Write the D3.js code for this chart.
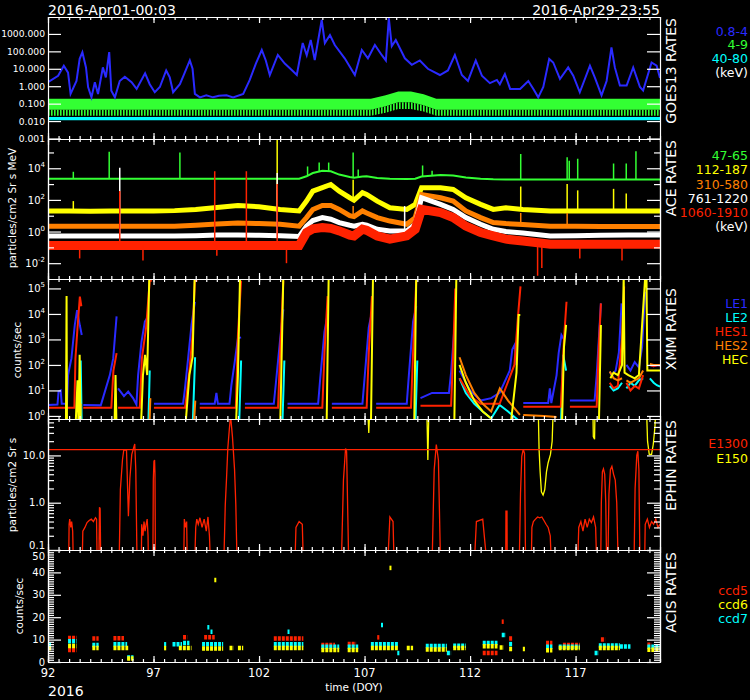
<!DOCTYPE html>
<html>
<head>
<meta charset="utf-8">
<script src="https://cdn.jsdelivr.net/npm/d3@7"></script>
<style>
body { margin: 0; background: #000; }
text { font-family: "DejaVu Sans", sans-serif; fill: #fff; }
</style>
</head>
<body>
<div id="chart-area"></div>
<script>
// ---------- data (DOY, value) ----------
const xMajor = [92, 97, 102, 107, 112, 117]
const xMinor = d3.range(92, 121.01, 0.5)

// GOES13 0.8-4 keV
const goesXray = [
  [92.0,1.7],[92.48,4],[92.75,15],[92.95,6],[93.07,0.36],[93.35,2],[93.5,37],[93.63,90],[93.8,12],[93.9,0.9],
  [94.06,0.23],[94.22,1.7],[94.37,0.36],[94.6,12],[94.74,3.2],[94.9,90],[95.0,0.56],[95.17,0.23],[95.4,2],[95.64,3.5],
  [95.96,1.7],[96.2,0.7],[96.6,5.5],[96.82,1.3],[97.06,0.45],[97.3,0.9],[97.6,8],[97.77,3.2],[97.93,0.45],[98.25,1.3],
  [98.48,6],[98.72,30],[98.85,10],[98.96,0.36],[99.2,0.23],[99.5,0.3],[99.82,0.23],[100.1,0.28],[100.46,0.3],[100.77,0.23],
  [101.25,0.36],[101.56,2.3],[101.85,20],[102.13,120],[102.32,30],[102.51,4.4],[102.89,62],[103.22,20],[103.55,8.6],[103.79,4.4],
  [104.07,300],[104.26,60],[104.45,450],[104.64,32],[104.97,6300],[105.12,300],[105.36,870],[105.59,230],[106.06,40],[106.54,4.4],
  [106.87,120],[107.16,40],[107.49,230],[107.82,60],[108.01,30],[108.15,8200],[108.29,200],[108.48,450],[108.91,40],[109.24,17],
  [109.62,30],[110.0,10],[110.57,4.4],[110.95,8],[111.28,62],[111.61,4.4],[111.9,2],[112.27,30],[112.56,4],[112.94,1.5],
  [113.27,2.3],[113.41,1.3],[113.65,5],[113.9,0.7],
  [114.37,0.7],[114.76,2],[115.0,0.7],[115.23,0.23],[115.47,0.9],[115.75,37],[115.94,23],[116.26,2.6],[116.65,12],[116.89,4],
  [117.2,0.45],[117.68,15],[117.91,3.2],[118.23,0.3],[118.47,2],[118.7,170],[118.86,12],[119.1,1.1],[119.42,1.1],[119.73,12],
  [120.05,0.9],[120.2,0.56],[120.6,23],[120.84,15],[121.0,3]
]
// GOES13 4-9 keV band (upper / lower / ragged floor) and 40-80 keV band
const goesBandDoy = [92, 107.3, 108.0, 108.6, 109.2, 109.8, 110.4, 121]
const goesGreenHi = [0.19, 0.19, 0.3, 0.5, 0.5, 0.35, 0.19, 0.19]
const goesGreenLo = [0.045, 0.045, 0.07, 0.12, 0.12, 0.08, 0.045, 0.045]
const goesGreenFloor = [0.02, 0.02, 0.03, 0.05, 0.05, 0.035, 0.02, 0.02]
const goesCyanHi = [0.017, 0.017, 0.017, 0.017, 0.017, 0.017, 0.017, 0.017]
const goesCyanLo = [0.011, 0.011, 0.011, 0.011, 0.011, 0.011, 0.011, 0.011]

// ACE rates
const aceDoy = [92, 93, 94, 95, 96, 97, 98, 99, 100, 101, 102, 103, 103.9, 104.25, 104.55, 105.0, 105.4, 105.8, 106.3, 106.5,
  106.9, 107.1, 107.6, 108.2, 109.0, 109.4, 109.7, 110.6, 111.2, 111.8, 112.5, 113.1, 113.7, 114.5, 115.8, 117, 118.2, 119.5, 121]
const ace47 = [2200, 2200, 2200, 2200, 2200, 2200, 2200, 2200, 2200, 2200, 2200, 2200, 2200, 3100, 5000, 7000, 6500, 4000, 2800, 2500,
  3000, 3100, 2400, 2200, 2100, 2200, 3000, 3800, 3500, 2600, 2200, 2000, 1950, 1950, 1950, 1950, 1950, 1950, 1950]
const ace112 = [20, 20, 19, 20, 20, 20, 21, 25, 33, 45, 37, 25, 20, 84, 360, 590, 940, 360, 137, 97,
  285, 220, 84, 32, 25, 52, 590, 590, 460, 137, 52, 25, 32, 25, 20, 20, 20, 20, 20]
const ace310 = [2.2, 2.2, 2.2, 2.2, 2.2, 2.2, 2.2, 2.5, 3, 3.5, 3.2, 2.9, 2.2, 7.6, 25, 45, 45, 25, 10, 8.8,
  20, 15, 7.6, 4.6, 2.9, 7.6, 220, 137, 84, 20, 7.6, 3.7, 3.2, 2.8, 2.2, 2.2, 2.1, 2.1, 2.1]
const ace761 = [0.53, 0.53, 0.53, 0.53, 0.53, 0.53, 0.53, 0.55, 0.6, 0.6, 0.59, 0.55, 0.49, 2.2, 5, 7.6, 6, 3.7, 2.5, 2.2,
  2.9, 2.5, 1.4, 1.1, 1.1, 2.9, 137, 52, 25, 7.6, 2.9, 1.4, 1.0, 0.8, 0.53, 0.55, 0.58, 0.6, 0.6]
const ace1060 = [0.13, 0.13, 0.13, 0.13, 0.13, 0.13, 0.13, 0.13, 0.13, 0.13, 0.13, 0.13, 0.13, 0.87, 1.5, 1.8, 1.6, 1.1, 0.6, 0.53,
  1.4, 1.2, 0.53, 0.33, 0.53, 1.4, 25, 15.6, 7.6, 2.2, 0.87, 0.53, 0.33, 0.25, 0.16, 0.16, 0.16, 0.16, 0.16]
// ACE spikes: [channel, DOY, value]
const aceSpikes = [
  [0, 93.2, 6000], [0, 94.9, 110000], [0, 98.25, 100000], [0, 104.3, 13000], [0, 104.85, 23000], [0, 105.3, 23000],
  [0, 106.46, 100000], [0, 106.7, 8300], [0, 109.75, 15000], [0, 110.2, 7000], [0, 114.4, 80000], [0, 116.6, 50000],
  [0, 116.7, 30000], [0, 117.1, 40000], [0, 118.8, 20000], [0, 119.4, 20000], [0, 119.86, 120000],
  [1, 93.2, 84], [1, 102.86, 1000000], [1, 106.46, 1900], [1, 114.4, 700], [1, 116.6, 1000], [1, 117.1, 400], [1, 118.8, 500], [1, 119.4, 250],
  [2, 106.46, 41], [2, 114.4, 15], [2, 116.6, 15],
  [3, 95.4, 10700], [3, 102.86, 5000], [3, 108.9, 41],
  [4, 95.4, 360], [4, 99.9, 6500], [4, 101.4, 6500], [4, 102.86, 1000],
  [4, 93.5, 0.02], [4, 96.5, 0.015], [4, 100.0, 0.03], [4, 103.3, 0.01], [4, 115.2, 0.0016], [4, 115.4, 0.005], [4, 117.2, 0.02], [4, 119.2, 0.015]
]

// XMM rates (null = data gap)
const xmmLE1 = [
  [92.0,2.7],[92.45,2.8],[92.5,9],[92.6,10],[92.65,3],[92.9,3],[92.95,40],[93.11,180],[93.27,3700],[93.38,14000],[93.51,3500],[93.6,1500],[93.62,null],
  [93.67,2.7],[94.5,2.6],[94.93,40],[95.09,180],[95.25,8000],[95.3,null],
  [95.32,12],[95.6,6],[95.8,9],[96.03,5],[96.19,2.8],[96.27,40],[96.43,800],[96.59,5000],[96.75,8000],[96.86,null],
  [97.02,3],[98.4,3],[98.48,10],[98.64,180],[98.8,3700],[98.96,30000],[99.1,null],
  [99.19,3],[99.9,3],[99.98,8],[100.05,3],[100.6,3],[100.69,16],[100.85,135],[101.0,1100],[101.15,1200],[101.2,null],
  [101.33,3],[102.7,3],[102.8,20],[103.0,1000],[103.15,15000],[103.25,null],
  [103.35,3],[104.8,3],[104.9,30],[105.1,2000],[105.25,10000],[105.35,null],
  [105.45,3],[106.9,3],[107.0,30],[107.2,3000],[107.35,12000],[107.45,null],
  [107.55,3],[109.0,3],[109.1,40],[109.3,5000],[109.45,20000],[109.55,null],
  [109.65,5],[110.2,8],[111.0,8],[111.1,50],[111.3,8000],[111.4,null],
  [111.5,60],[112.0,10],[112.5,4],[113.0,5],[113.4,8],[113.88,60],[114.0,400],[114.12,630],[114.2,100],[114.3,null],
  [114.52,3.2],[115.7,3.2],[115.78,12],[115.85,3.2],[116.1,40],[116.2,300],[116.33,1500],[116.45,1000],[116.6,null],
  [116.73,4],[117.9,4],[118.0,40],[118.1,1000],[118.2,26000],[118.28,null],
  [118.62,55],[118.7,40],[118.9,60],[119.05,300],[119.18,26000],[119.25,null],
  [119.41,100],[119.6,60],[119.8,130],[120.0,80],[120.15,500],[120.3,75000],[120.4,null],
  [120.52,100],[120.7,90],[120.9,100],[121,95]
]
const xmmLE2 = [
  [93.45,0.3],[93.55,150],[93.6,0.3],[93.62,null],
  [96.75,0.3],[96.82,60],[96.86,null],
  [98.85,0.3],[98.97,200],[99.1,null],
  [101.05,0.3],[101.15,150],[101.2,null],
  [103.1,0.3],[103.2,150],[103.25,null],
  [109.4,0.3],[109.5,150],[109.55,null],
  [111.5,30],[111.8,8],[112.2,3],[112.6,1.5],[113.0,0.8],[113.4,2.7],[113.8,1.5],[114.36,0.6],[114.4,null],
  [116.3,0.3],[116.41,250],[116.55,60],[116.6,null],
  [118.62,15],[118.8,10],[119.0,12],[119.2,20],[119.25,null],
  [119.41,12],[119.6,20],[119.8,15],[120.0,25],[120.2,30],[120.4,null],
  [120.52,30],[120.7,20],[120.85,16],[121,14]
]
const xmmHES1 = [
  [92.0,2.1],[93.25,2.1],[93.3,180],[93.4,3000],[93.51,48000],[93.58,20000],[93.62,null],
  [93.67,2.1],[95.0,2.1],[95.1,60],[95.25,290],[95.3,null],
  [95.32,2.1],[96.35,2.1],[96.45,180],[96.65,3000],[96.82,200000],[96.92,200000],[96.95,null],
  [97.02,2.1],[98.5,2.1],[98.7,60],[98.85,1500],[98.96,200000],[99.08,200000],[99.1,null],
  [99.19,2.1],[100.9,2.1],[101.0,1500],[101.15,200000],[101.2,null],
  [101.33,2.1],[102.9,2.1],[103.0,300],[103.15,200000],[103.25,null],
  [103.35,2.1],[105.0,2.1],[105.1,300],[105.25,50000],[105.35,null],
  [105.45,2.1],[107.1,2.1],[107.2,300],[107.35,50000],[107.45,null],
  [107.55,2.1],[109.2,2.1],[109.3,300],[109.45,200000],[109.55,null],
  [109.65,2.5],[111.1,2.5],[111.2,300],[111.3,100000],[111.4,null],
  [111.5,30],[112.0,6],[112.5,3],[113.4,3],[114.1,100],[114.28,10000],[114.39,120000],[114.44,null],
  [114.52,2.3],[116.3,2.3],[116.45,1000],[116.57,30000],[116.65,null],
  [116.73,2.3],[118.0,2.3],[118.1,500],[118.2,26000],[118.28,null],
  [118.62,20],[118.8,12],[119.0,15],[119.2,1000],[119.3,120000],[119.35,null],
  [119.41,20],[119.6,10],[119.8,15],[120.0,12],[120.2,40],[120.4,null],
  [120.52,100],[120.7,90],[120.9,100],[121,95]
]
const xmmHES2 = [
  [93.5,0.3],[93.55,3],[93.6,null],
  [96.8,0.3],[96.85,5],[96.87,null],
  [98.9,0.3],[98.98,4],[99.1,null],
  [111.5,200],[111.8,40],[112.2,8],[112.6,3],[113.0,1.5],[113.41,12],[113.8,4],[114.36,1.1],[114.4,null],
  [114.52,1.1],[115.5,1.0],[116.1,0.9],[116.2,null],
  [118.62,55],[118.8,30],[119.0,25],[119.2,30],[119.25,null],
  [119.41,25],[119.6,20],[119.8,25],[120.0,30],[120.2,60],[120.4,null],
  [120.52,110],[120.7,100],[120.9,100],[121,100]
]
const xmmHEC = [
  [92.85,0.3],[92.88,50000],[92.9,0.3],[92.92,null],
  [93.3,0.3],[93.4,25],[93.45,0.3],[93.5,250],[93.55,0.3],[93.6,null],
  [95.15,0.3],[95.2,40],[95.25,0.3],[95.3,null],
  [96.4,0.3],[96.5,40],[96.6,250],[96.7,40],[96.8,300000],[96.85,300000],[96.87,null],
  [98.5,0.3],[98.7,40],[98.85,200],[98.95,300000],[99.05,300000],[99.1,null],
  [100.9,0.3],[101.0,40],[101.1,300000],[101.18,300000],[101.2,null],
  [103.0,0.3],[103.15,300000],[103.22,null],
  [105.2,0.3],[105.3,300000],[105.35,null],
  [107.3,0.3],[107.4,300000],[107.45,null],
  [109.35,0.3],[109.45,300000],[109.5,null],
  [111.25,0.3],[111.35,300000],[111.4,null],
  [111.5,100],[111.8,20],[112.2,4],[112.6,1.5],[113.0,0.8],[113.1,null],
  [113.9,0.3],[114.2,50],[114.3,9000],[114.38,9000],[114.42,null],
  [116.35,0.3],[116.45,500],[116.55,3700],[116.62,null],
  [118.1,0.3],[118.2,3700],[118.26,null],
  [118.65,30],[118.8,50],[119.0,40],[119.2,100],[119.28,300000],[119.32,50],[119.5,40],[119.8,30],[120.0,40],[120.3,300000],[120.36,300000],[120.4,60],[120.6,60],[121,60]
]

// EPHIN rates (0.05 = below scale, 100 = above scale)
const ephinE1300 = [
  [92.0,0.05],[92.98,0.05],[93.0,0.35],[93.03,0.45],[93.08,0.3],[93.12,0.4],[93.17,0.25],[93.2,0.05],
  [93.62,0.05],[93.65,0.25],[93.75,0.3],[93.85,0.38],[93.95,0.42],[94.05,0.45],[94.15,0.4],[94.25,0.48],[94.3,0.45],[94.33,0.05],
  [94.41,0.05],[94.44,0.8],[94.47,0.75],[94.5,0.05],
  [95.37,0.05],[95.43,1.9],[95.53,8.2],[95.59,13],[95.72,13],[95.78,1.5],[95.81,0.52],[95.88,3.3],[95.97,10.5],[96.11,17.5],[96.16,5],[96.22,0.05],
  [96.42,0.05],[96.44,0.35],[96.5,0.2],[96.55,0.4],[96.6,0.25],[96.65,0.35],[96.7,0.45],[96.74,0.2],[96.76,0.05],
  [96.97,0.05],[96.99,3],[97.02,7.5],[97.05,8],[97.07,4],[97.09,0.05],
  [98.43,0.05],[98.46,0.45],[98.52,0.3],[98.57,0.4],[98.6,0.05],
  [98.95,0.05],[99.0,0.3],[99.05,0.45],[99.12,0.35],[99.2,0.48],[99.3,0.3],[99.4,0.45],[99.5,0.25],[99.58,0.5],[99.65,0.2],[99.7,0.05],
  [100.33,0.05],[100.4,0.9],[100.46,3.3],[100.52,14],[100.59,35],[100.65,70],[100.74,25],[100.84,5],[100.9,0.9],[100.96,0.05],
  [103.7,0.05],[103.75,0.3],[103.9,0.4],[104.05,0.35],[104.1,0.05],
  [105.9,0.05],[106.0,3],[106.1,14],[106.15,12],[106.25,0.05],
  [108.1,0.05],[108.2,0.5],[108.35,0.4],[108.4,0.05],
  [110.2,0.05],[110.3,5],[110.4,17],[110.5,8],[110.6,0.05],
  [112.2,0.05],[112.3,0.4],[112.6,0.45],[112.8,0.05],
  [113.69,0.05],[113.7,0.66],[113.75,0.66],[113.76,0.05],
  [114.33,0.05],[114.39,1.6],[114.45,9.6],[114.52,13.5],[114.58,11],[114.63,0.05],
  [114.9,0.05],[114.93,0.3],[115.0,0.4],[115.1,0.45],[115.2,0.5],[115.3,0.48],[115.4,0.5],[115.5,0.42],[115.6,0.35],[115.7,0.3],[115.8,0.2],[115.85,0.05],
  [117.1,0.05],[117.15,0.3],[117.25,0.4],[117.35,0.25],[117.45,0.45],[117.55,0.3],[117.65,0.45],[117.75,0.38],[117.85,0.5],[117.95,0.3],[118.0,0.05],
  [118.19,0.05],[118.22,1],[118.27,4.5],[118.32,5.2],[118.38,4],[118.43,1],[118.47,0.05],
  [118.53,0.05],[118.58,1.5],[118.65,5],[118.72,5.9],[118.8,4],[118.88,3],[118.95,1],[119.02,0.05],
  [119.77,0.05],[119.82,2],[119.9,10],[119.95,12.3],[120.0,5],[120.05,0.05],
  [120.27,0.05],[120.3,0.35],[120.4,0.45],[120.5,0.3],[120.6,0.4],[120.7,0.35],[120.8,0.45],[120.9,0.3],[121,0.35]
]
const ephinE150 = [
  [92.0,100],[107.15,100],[107.2,30],[107.25,100],
  [109.95,100],[110.0,8],[110.05,100],
  [115.23,100],[115.27,13.5],[115.32,4.5],[115.38,1.7],[115.46,1.45],[115.54,1.9],[115.62,4.5],[115.7,7],[115.81,10.5],[115.89,20],[115.94,100],
  [117.82,100],[117.84,25],[117.9,22],[117.92,100],
  [120.36,100],[120.41,20],[120.49,10.5],[120.6,10.5],[120.68,17],[120.76,40],[120.8,100],[121,100]
]
const ephinLimit = 13.2

// ACIS rates: [start DOY, end DOY, counts/sec]
const acisCcd5 = [
  [92.95,93.35,10.7],[92.95,93.35,5.4],[94.1,94.4,10.5],[95.1,95.6,10.6],[98.4,98.6,11],[99.4,99.9,11],[102.7,104.1,10.5],
  [104.95,105.6,7.6],[106.2,106.6,8],[107.6,107.7,11],[112.6,113.3,4],[113.5,113.55,18],[113.85,114.0,10.5],[115.6,115.9,8.5],
  [116.4,117.2,7.6],[118.2,118.4,10],[120.4,120.6,7.7]
]
const acisCcd6 = [
  [92.0,92.15,6.2],[92.95,93.35,7.1],[94.1,94.4,6.2],[95.1,95.8,6.2],[95.75,96.05,1.6],[97.5,97.6,6.2],[98.2,98.8,6.2],
  [99.3,100.3,6.0],[100.6,100.8,6.2],[101.0,101.25,6.2],[102.7,104.1,6.2],[104.95,105.8,5.4],[106.2,106.7,5.4],[107.3,108.6,6.2],
  [109.0,109.3,6.2],[109.9,110.9,5.6],[111.2,111.8,6.2],[112.6,113.3,7.0],[113.4,113.6,6.5],[113.85,114.0,5.8],[114.5,114.6,5.8],
  [115.6,115.9,5.2],[116.2,117.2,6.2],[118.1,119.1,6.2],[120.4,121,5.5],[99.88,99.92,36.6],[108.18,108.22,42]
]
const acisCcd7 = [
  [92.0,92.15,7.6],[92.95,93.35,9.3],[94.1,94.4,7.6],[95.1,95.75,7.9],[95.75,96.05,2.0],[97.5,97.6,7.9],[97.9,98.35,7.9],
  [98.4,98.7,8.5],[99.3,100.3,7.9],[99.55,99.6,15.5],[99.7,99.75,13.5],[102.7,104.1,7.9],[103.35,103.38,13.5],[104.95,105.8,6.8],
  [106.2,106.7,6.8],[107.3,108.6,7.9],[107.78,107.82,16.5],[108.55,108.65,4],[109.9,110.9,7.1],[110.9,111.1,4],[111.2,111.8,7.3],
  [112.6,113.3,8.5],[113.5,113.7,12],[113.85,114.0,8],[115.6,115.9,6.8],[116.2,117.2,6.8],[117.9,118.1,4],[118.1,119.1,7.4],
  [119.1,119.6,6.9],[120.4,121,6.8]
]

// ---------- layout ----------
const WIDTH = 750, HEIGHT = 700
const PLOT = { LEFT: 48, RIGHT: 660 }
const COL = { blue: "#2a2aff", green: "#33ff33", cyan: "#00ffff", red: "#ff2200", orange: "#ff8000", yellow: "#ffff00", white: "#ffffff" }

const svg = d3.select("#chart-area").append("svg")
  .attr("width", WIDTH).attr("height", HEIGHT)
  .style("background", "#000")

const x = d3.scaleLinear().domain([92, 121]).range([PLOT.LEFT, PLOT.RIGHT])

const panels = [
  { id: "goes", top: 17, bottom: 139 },
  { id: "ace", top: 139, bottom: 279 },
  { id: "xmm", top: 279, bottom: 419 },
  { id: "ephin", top: 419, bottom: 550 },
  { id: "acis", top: 550, bottom: 662 }
]
const yGoes = d3.scaleLog().domain([1e-3, 1e4]).range([138.5, 16.5])
const yAce = d3.scaleLog().domain([1e-3, Math.pow(10, 5.85)]).range([279, 139])
const yXmm = d3.scaleLog().domain([Math.pow(10, -0.12), Math.pow(10, 5.37)]).range([419, 279])
const yEphin = d3.scaleLog().domain([0.1, Math.pow(10, 1.77)]).range([550, 419])
const yAcis = d3.scaleLinear().domain([0, 50]).range([662, 550])

const defs = svg.append("defs")
panels.forEach(p => {
  defs.append("clipPath").attr("id", "clip-" + p.id)
    .append("rect").attr("x", PLOT.LEFT).attr("y", p.top).attr("width", PLOT.RIGHT - PLOT.LEFT).attr("height", p.bottom - p.top)
})
// vertical hatching to suggest the noisy lower edge of the 4-9 keV trace
const hatch = defs.append("pattern").attr("id", "greenHatch").attr("patternUnits", "userSpaceOnUse")
  .attr("width", 3).attr("height", 4)
hatch.append("rect").attr("width", 1.6).attr("height", 4).attr("fill", COL.green)

const dataG = {}
panels.forEach(p => { dataG[p.id] = svg.append("g").attr("clip-path", `url(#clip-${p.id})`) })

const lineOf = y => d3.line().defined(d => d[1] != null).x(d => x(d[0])).y(d => y(d[1]))
const zip = (a, b) => a.map((d, i) => [d, b[i]])

// ---------- GOES ----------
const bandArea = (hi, lo) => d3.area().x((d, i) => x(goesBandDoy[i])).y0((d, i) => yGoes(lo[i])).y1((d, i) => yGoes(hi[i]))
dataG.goes.append("path").datum(goesGreenLo).attr("d", bandArea(goesGreenLo, goesGreenFloor)).attr("fill", "url(#greenHatch)")
dataG.goes.append("path").datum(goesGreenHi).attr("d", bandArea(goesGreenHi, goesGreenLo)).attr("fill", COL.green)
dataG.goes.append("path").datum(goesCyanHi).attr("d", bandArea(goesCyanHi, goesCyanLo)).attr("fill", COL.cyan)
dataG.goes.append("path").datum(goesXray).attr("d", lineOf(yGoes)).attr("fill", "none").attr("stroke", COL.blue).attr("stroke-width", 2)

// ---------- ACE ----------
const aceSeries = [
  { v: ace47, c: COL.green, w: 2 },
  { v: ace112, c: COL.yellow, w: 5 },
  { v: ace310, c: COL.orange, w: 5 },
  { v: ace761, c: COL.white, w: 5 },
  { v: ace1060, c: COL.red, w: 9 }
]
aceSeries.forEach(s => {
  dataG.ace.append("path").datum(zip(aceDoy, s.v)).attr("d", lineOf(yAce))
    .attr("fill", "none").attr("stroke", s.c).attr("stroke-width", s.w)
})
const interpAce = (vals, d) => {
  const i = Math.max(1, Math.min(aceDoy.length - 1, d3.bisectLeft(aceDoy, d)))
  const t = (d - aceDoy[i - 1]) / (aceDoy[i] - aceDoy[i - 1])
  return Math.exp(Math.log(vals[i - 1]) * (1 - t) + Math.log(vals[i]) * t)
}
dataG.ace.selectAll("line.spike").data(aceSpikes).join("line")
  .attr("x1", d => x(d[1])).attr("x2", d => x(d[1]))
  .attr("y1", d => yAce(interpAce(aceSeries[d[0]].v, d[1])))
  .attr("y2", d => yAce(d[2]))
  .attr("stroke", d => aceSeries[d[0]].c).attr("stroke-width", 1.5)

// ---------- XMM ----------
const xmmSeries = [
  { v: xmmLE1, c: COL.blue }, { v: xmmLE2, c: COL.cyan }, { v: xmmHES1, c: COL.red },
  { v: xmmHES2, c: COL.orange }, { v: xmmHEC, c: COL.yellow }
]
xmmSeries.forEach(s => {
  dataG.xmm.append("path").datum(s.v).attr("d", lineOf(yXmm))
    .attr("fill", "none").attr("stroke", s.c).attr("stroke-width", 2)
})

// ---------- EPHIN ----------
dataG.ephin.append("path").datum(ephinE1300).attr("d", lineOf(yEphin)).attr("fill", "none").attr("stroke", COL.red).attr("stroke-width", 1.3)
dataG.ephin.append("path").datum(ephinE150).attr("d", lineOf(yEphin)).attr("fill", "none").attr("stroke", COL.yellow).attr("stroke-width", 1.3)
dataG.ephin.append("line").attr("x1", PLOT.LEFT).attr("x2", PLOT.RIGHT)
  .attr("y1", yEphin(ephinLimit)).attr("y2", yEphin(ephinLimit)).attr("stroke", COL.red).attr("stroke-width", 1.3)

// ---------- ACIS ----------
;[[acisCcd5, COL.red], [acisCcd7, COL.cyan], [acisCcd6, COL.yellow]].forEach(([segs, c]) => {
  dataG.acis.selectAll(null).data(segs).join("line")
    .attr("x1", d => x(d[0])).attr("x2", d => Math.max(x(d[1]), x(d[0]) + 2))
    .attr("y1", d => yAcis(d[2])).attr("y2", d => yAcis(d[2]))
    .attr("stroke", c).attr("stroke-width", 4.5).attr("stroke-dasharray", "3,1")
})

// ---------- frames and ticks ----------
const frames = svg.append("g")
const yTicks = {
  goes: { y: yGoes, major: [1e-3, 1e-2, 1e-1, 1, 10, 100, 1000], minor: [] },
  ace: { y: yAce, major: [1e-2, 1, 1e2, 1e4], minor: [1e-1, 10, 1e3, 1e5] },
  xmm: { y: yXmm, major: [1, 10, 100, 1e3, 1e4, 1e5], minor: [] },
  ephin: { y: yEphin, major: [0.1, 1, 10], minor: [0.2, 0.3, 0.4, 0.5, 0.6, 0.7, 0.8, 0.9, 2, 3, 4, 5, 6, 7, 8, 9, 20, 30, 40, 50] },
  acis: { y: yAcis, major: [0, 10, 20, 30, 40, 50], minor: d3.range(1, 50).filter(v => v % 10 !== 0) }
}
panels.forEach(p => {
  const t = yTicks[p.id]
  const g = frames.append("g")
  g.append("g").attr("transform", `translate(0,${p.top})`).call(d3.axisBottom(x).tickValues(xMinor).tickSize(3).tickSizeOuter(0).tickFormat(""))
  g.append("g").attr("transform", `translate(0,${p.top})`).call(d3.axisBottom(x).tickValues(xMajor).tickSize(6).tickSizeOuter(0).tickFormat(""))
  g.append("g").attr("transform", `translate(0,${p.bottom})`).call(d3.axisTop(x).tickValues(xMinor).tickSize(3).tickSizeOuter(0).tickFormat(""))
  g.append("g").attr("transform", `translate(0,${p.bottom})`).call(d3.axisTop(x).tickValues(xMajor).tickSize(6).tickSizeOuter(0).tickFormat(""))
  g.append("g").attr("transform", `translate(${PLOT.LEFT},0)`).call(d3.axisRight(t.y).tickValues(t.major).tickSize(13).tickSizeOuter(0).tickFormat(""))
  g.append("g").attr("transform", `translate(${PLOT.RIGHT},0)`).call(d3.axisLeft(t.y).tickValues(t.major).tickSize(13).tickSizeOuter(0).tickFormat(""))
  if (t.minor.length) {
    g.append("g").attr("transform", `translate(${PLOT.LEFT},0)`).call(d3.axisRight(t.y).tickValues(t.minor).tickSize(6).tickSizeOuter(0).tickFormat(""))
    g.append("g").attr("transform", `translate(${PLOT.RIGHT},0)`).call(d3.axisLeft(t.y).tickValues(t.minor).tickSize(6).tickSizeOuter(0).tickFormat(""))
  }
})
frames.selectAll("path, line").attr("stroke", "#fff").attr("stroke-width", 1.2)
frames.selectAll(".tick text").remove()

// ---------- tick labels ----------
const labels = svg.append("g").attr("font-size", 9.2)
labels.selectAll(null).data(yTicks.goes.major).join("text")
  .attr("x", 45).attr("y", d => yGoes(d) + 3.5).attr("text-anchor", "end").text(d3.format(".3f"))
const powLabel = (sel, y) => {
  sel.attr("x", 45).attr("y", d => y(d) + 4).attr("text-anchor", "end")
  sel.append("tspan").attr("font-size", 10).text("10")
  sel.append("tspan").attr("dy", -5).attr("font-size", 7).text(d => Math.round(Math.log10(d)))
}
labels.selectAll(null).data(yTicks.ace.major).join("text").call(powLabel, yAce)
labels.selectAll(null).data(yTicks.xmm.major).join("text").call(powLabel, yXmm)
labels.selectAll(null).data(yTicks.ephin.major).join("text")
  .attr("x", 45).attr("y", d => yEphin(d) + (d === 0.1 ? -1.5 : 3.5)).attr("text-anchor", "end").attr("font-size", 10).text(d3.format(".1f"))
labels.selectAll(null).data(yTicks.acis.major).join("text")
  .attr("x", 45).attr("y", d => yAcis(d) + (d === 50 ? 9.5 : 3.5)).attr("text-anchor", "end").attr("font-size", 10).text(d => d)
labels.selectAll(null).data(xMajor).join("text")
  .attr("x", d => x(d)).attr("y", 677).attr("text-anchor", "middle").attr("font-size", 11.5).text(d => d)

svg.append("text").attr("x", 354).attr("y", 691).attr("text-anchor", "middle").attr("font-size", 10.5).text("time (DOY)")
svg.append("text").attr("x", 48).attr("y", 696).attr("font-size", 14).text("2016")
svg.append("text").attr("x", 48).attr("y", 15).attr("font-size", 14).text("2016-Apr01-00:03")
svg.append("text").attr("x", 660).attr("y", 15).attr("text-anchor", "end").attr("font-size", 14).text("2016-Apr29-23:55")

// left axis titles
const yTitles = [
  { t: "particles/cm2 Sr s MeV", cy: 208, bx: 16 },
  { t: "counts/sec", cy: 350, bx: 21 },
  { t: "particles/cm2 Sr s", cy: 485, bx: 16 },
  { t: "counts/sec", cy: 606, bx: 23 }
]
yTitles.forEach(d => {
  svg.append("text").attr("transform", `translate(${d.bx},${d.cy}) rotate(-90)`)
    .attr("text-anchor", "middle").attr("font-size", 10.5).text(d.t)
})

// right panel titles (read upward)
const rTitles = [
  { t: "GOES13 RATES", top: 18 }, { t: "ACE RATES", top: 140 }, { t: "XMM RATES", top: 288 },
  { t: "EPHIN RATES", top: 420 }, { t: "ACIS RATES", top: 552 }
]
rTitles.forEach(d => {
  svg.append("text").attr("transform", `translate(676,${d.top}) rotate(-90)`)
    .attr("text-anchor", "end").attr("font-size", 14).text(d.t)
})

// legends
const legends = [
  ["0.8-4", COL.blue, 35.5], ["4-9", COL.green, 49], ["40-80", COL.cyan, 63], ["(keV)", COL.white, 77],
  ["47-65", COL.green, 159.5], ["112-187", COL.yellow, 174], ["310-580", COL.orange, 188.5], ["761-1220", COL.white, 202.5],
  ["1060-1910", COL.red, 216.5], ["(keV)", COL.white, 231],
  ["LE1", COL.blue, 308], ["LE2", COL.cyan, 322], ["HES1", COL.red, 336], ["HES2", COL.orange, 350], ["HEC", COL.yellow, 364],
  ["E1300", COL.red, 448], ["E150", COL.yellow, 462.5],
  ["ccd5", COL.red, 595], ["ccd6", COL.yellow, 609], ["ccd7", COL.cyan, 623]
]
svg.append("g").selectAll("text").data(legends).join("text")
  .attr("x", 748).attr("y", d => d[2]).attr("text-anchor", "end").attr("font-size", 12.5)
  .style("fill", d => d[1]).text(d => d[0])
</script>
</body>
</html>
